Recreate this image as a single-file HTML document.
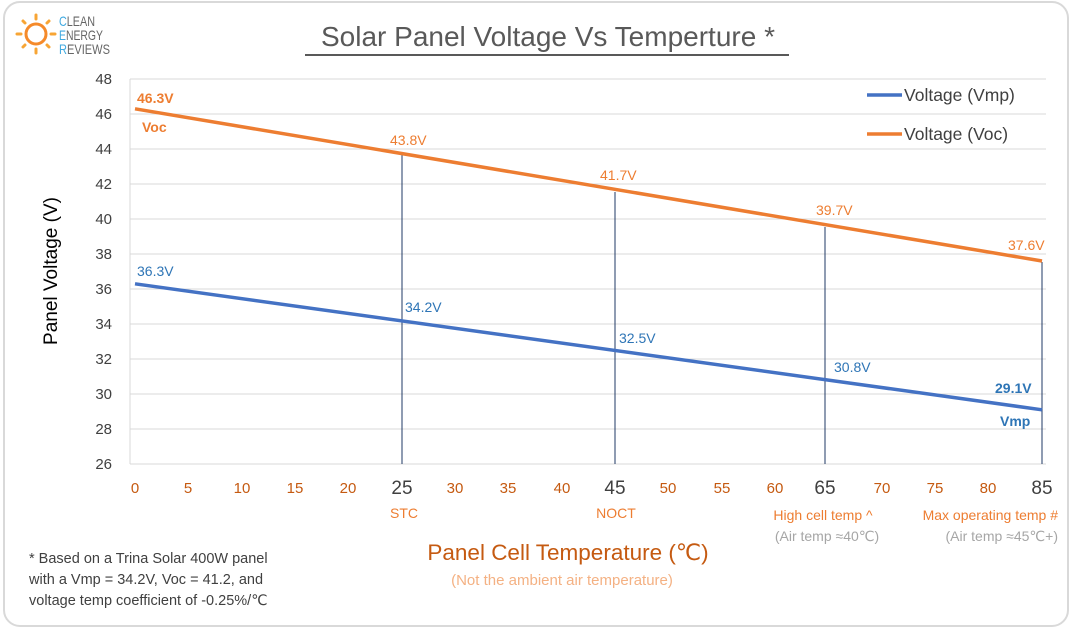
<!DOCTYPE html>
<html><head><meta charset="utf-8"><style>
html,body{margin:0;padding:0;background:#fff;}
svg{display:block;font-family:"Liberation Sans","DejaVu Sans",sans-serif;}
</style></head><body>
<svg width="1071" height="629" viewBox="0 0 1071 629" xmlns="http://www.w3.org/2000/svg">
<rect x="4" y="2" width="1064" height="624" rx="16" fill="#fff" stroke="#d9d9d9" stroke-width="2"/>
<!-- logo -->
<g stroke="#f7a535" stroke-width="3" stroke-linecap="round">
<circle cx="36" cy="34" r="10" fill="none" stroke="#f58a2a" stroke-width="3"/>
<line x1="36" y1="15" x2="36" y2="19"/><line x1="36" y1="49" x2="36" y2="53"/>
<line x1="17" y1="34" x2="21" y2="34"/><line x1="51" y1="34" x2="55" y2="34"/>
<line x1="23" y1="21" x2="25" y2="23"/><line x1="47" y1="45" x2="49" y2="47"/>
<line x1="49" y1="21" x2="47" y2="23"/><line x1="23" y1="47" x2="25" y2="45"/>
</g>
<g font-size="14" fill="#666">
<text x="59" y="26" textLength="36" lengthAdjust="spacingAndGlyphs"><tspan fill="#3fa9e0">C</tspan>LEAN</text>
<text x="59" y="40" textLength="44" lengthAdjust="spacingAndGlyphs"><tspan fill="#3fa9e0">E</tspan>NERGY</text>
<text x="59" y="54" textLength="51" lengthAdjust="spacingAndGlyphs"><tspan fill="#3fa9e0">R</tspan>EVIEWS</text>
</g>
<!-- title -->
<text x="548" y="46" font-size="28" fill="#595959" text-anchor="middle">Solar Panel Voltage Vs Temperture *</text>
<line x1="305" y1="55" x2="789" y2="55" stroke="#595959" stroke-width="2"/>
<!-- grid -->
<g stroke="#d9d9d9" stroke-width="1">
<line x1="130" y1="79" x2="1046" y2="79"/><line x1="130" y1="114" x2="1046" y2="114"/>
<line x1="130" y1="149" x2="1046" y2="149"/><line x1="130" y1="184" x2="1046" y2="184"/>
<line x1="130" y1="219" x2="1046" y2="219"/><line x1="130" y1="254" x2="1046" y2="254"/>
<line x1="130" y1="289" x2="1046" y2="289"/><line x1="130" y1="324" x2="1046" y2="324"/>
<line x1="130" y1="359" x2="1046" y2="359"/><line x1="130" y1="394" x2="1046" y2="394"/>
<line x1="130" y1="429" x2="1046" y2="429"/><line x1="130" y1="464" x2="1046" y2="464"/>
<line x1="130" y1="79" x2="130" y2="464"/>
</g>
<g font-size="15" fill="#404040" text-anchor="end">
<text x="112" y="84">48</text><text x="112" y="119">46</text><text x="112" y="154">44</text>
<text x="112" y="189">42</text><text x="112" y="224">40</text><text x="112" y="259">38</text>
<text x="112" y="294">36</text><text x="112" y="329">34</text><text x="112" y="364">32</text>
<text x="112" y="399">30</text><text x="112" y="434">28</text><text x="112" y="469">26</text>
</g>
<text transform="translate(57,271) rotate(-90)" font-size="19" fill="#000" text-anchor="middle">Panel  Voltage (V)</text>
<!-- drop lines -->
<g stroke="#1f3864" stroke-width="1">
<line x1="402" y1="155" x2="402" y2="464"/>
<line x1="615" y1="192" x2="615" y2="464"/>
<line x1="825" y1="227" x2="825" y2="464"/>
<line x1="1042" y1="262" x2="1042" y2="464"/>
</g>
<!-- series -->
<line x1="135" y1="108.8" x2="1042" y2="261" stroke="#ed7d31" stroke-width="3.5"/>
<line x1="135" y1="283.8" x2="1042" y2="409.8" stroke="#4472c4" stroke-width="3.5"/>
<!-- labels -->
<g font-size="14" fill="#ed7d31">
<text x="137" y="103" font-weight="bold">46.3V</text>
<text x="142" y="132" font-weight="bold">Voc</text>
<text x="390" y="145">43.8V</text>
<text x="600" y="180">41.7V</text>
<text x="816" y="215">39.7V</text>
<text x="1008" y="250">37.6V</text>
</g>
<g font-size="14" fill="#2e75b6">
<text x="137" y="276">36.3V</text>
<text x="405" y="312">34.2V</text>
<text x="619" y="343">32.5V</text>
<text x="834" y="372">30.8V</text>
<text x="995" y="393" font-weight="bold">29.1V</text>
<text x="1000" y="426" font-weight="bold">Vmp</text>
</g>
<!-- legend -->
<line x1="867" y1="95" x2="902" y2="95" stroke="#4472c4" stroke-width="3.5"/>
<text x="904" y="101" font-size="17.5" fill="#404040">Voltage (Vmp)</text>
<line x1="867" y1="134" x2="902" y2="134" stroke="#ed7d31" stroke-width="3.5"/>
<text x="904" y="140" font-size="17.5" fill="#404040">Voltage (Voc)</text>
<!-- x ticks -->
<g font-size="15" fill="#c55a11" text-anchor="middle">
<text x="135" y="493">0</text><text x="188" y="493">5</text><text x="242" y="493">10</text>
<text x="295" y="493">15</text><text x="348" y="493">20</text>
<text x="455" y="493">30</text><text x="508" y="493">35</text><text x="562" y="493">40</text>
<text x="668" y="493">50</text><text x="722" y="493">55</text><text x="775" y="493">60</text>
<text x="882" y="493">70</text><text x="935" y="493">75</text><text x="988" y="493">80</text>
</g>
<g font-size="19" fill="#404040" text-anchor="middle">
<text x="402" y="494">25</text><text x="615" y="494">45</text>
<text x="825" y="494">65</text><text x="1042" y="494">85</text>
</g>
<g font-size="14" fill="#ed7d31" text-anchor="middle">
<text x="404" y="518">STC</text><text x="616" y="518">NOCT</text>
</g>
<text x="823" y="520" font-size="14" fill="#ed7d31" text-anchor="middle">High cell temp ^</text>
<text x="827" y="541" font-size="14" fill="#a6a6a6" text-anchor="middle">(Air temp ≈40℃)</text>
<text x="1058" y="520" font-size="14" fill="#ed7d31" text-anchor="end">Max operating temp #</text>
<text x="1058" y="541" font-size="14" fill="#a6a6a6" text-anchor="end">(Air temp ≈45℃+)</text>
<text x="568" y="560" font-size="22.5" fill="#c55a11" text-anchor="middle">Panel Cell Temperature (℃)</text>
<text x="562" y="585" font-size="15" fill="#f4b183" text-anchor="middle">(Not the ambient air temperature)</text>
<g font-size="14.5" fill="#404040">
<text x="29" y="563">* Based on a Trina Solar 400W panel</text>
<text x="29" y="584">with a Vmp = 34.2V, Voc = 41.2, and</text>
<text x="29" y="605">voltage temp coefficient of -0.25%/℃</text>
</g>
</svg>
</body></html>
